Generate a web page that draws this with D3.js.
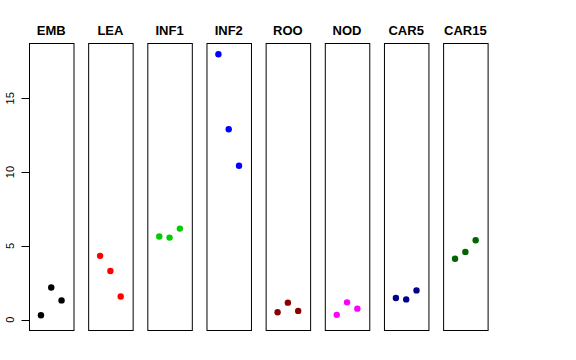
<!DOCTYPE html>
<html>
<head>
<meta charset="utf-8">
<script src="https://cdn.jsdelivr.net/npm/d3@7"></script>
<style>
  body { margin: 0; background: #fff; }
  svg { display: block; font-family: "Liberation Sans", Arial, sans-serif; }
</style>
</head>
<body>
<div id="root"></div>
<script>
// tissue panels and their point colours
const tissues = ["EMB", "LEA", "INF1", "INF2", "ROO", "NOD", "CAR5", "CAR15"]
const colors = ["#000000", "#FF0000", "#00CD00", "#0000FF", "#8B0000", "#FF00FF", "#00008B", "#006400"]

// three replicate values per tissue
const emb = [0.29, 2.18, 1.30]
const lea = [4.32, 3.29, 1.57]
const inf1 = [5.63, 5.56, 6.17]
const inf2 = [17.99, 12.91, 10.43]
const roo = [0.50, 1.15, 0.59]
const nod = [0.32, 1.17, 0.74]
const car5 = [1.46, 1.37, 1.98]
const car15 = [4.12, 4.59, 5.38]
const series = [emb, lea, inf1, inf2, roo, nod, car5, car15]

const y_ticks = [0, 5, 10, 15]

const width = 576, height = 360
const top_y = 43.5, bottom_y = 330.5

const svg = d3.select("#root").append("svg")
  .attr("width", width)
  .attr("height", height)

const panel_scale = d3.scaleBand()
  .domain(tissues)
  .range([29, 487.6])
  .paddingInner(0.248)
  .paddingOuter(0)

const y_scale = d3.scaleLinear()
  .domain([-0.74, 18.72])
  .range([bottom_y, top_y])

const x_scale = d3.scaleLinear()
  .domain([-0.16, 4.16])
  .range([0, panel_scale.bandwidth()])

tissues.forEach((name, i) => {
  const left = panel_scale(name)
  const g = svg.append("g").attr("transform", `translate(${left},0)`)

  g.append("text")
    .attr("x", panel_scale.bandwidth() / 2)
    .attr("y", 34.5)
    .attr("text-anchor", "middle")
    .attr("font-weight", "bold")
    .attr("font-size", 13)
    .text(name)

  g.selectAll("circle")
    .data(series[i])
    .enter()
    .append("circle")
    .attr("cx", (d, j) => x_scale(j + 1))
    .attr("cy", d => y_scale(d))
    .attr("r", 3.2)
    .attr("fill", colors[i])

  g.append("rect")
    .attr("x", 0.5)
    .attr("y", top_y)
    .attr("width", panel_scale.bandwidth())
    .attr("height", bottom_y - top_y)
    .attr("fill", "none")
    .attr("stroke", "#000")
    .attr("stroke-width", 1)
})

// y axis, R style: line only across tick range
const axis_x = panel_scale(tissues[0]) + 0.5
const axis = svg.append("g")
axis.append("line")
  .attr("x1", axis_x).attr("x2", axis_x)
  .attr("y1", y_scale(y_ticks[0])).attr("y2", y_scale(y_ticks[y_ticks.length - 1]))
  .attr("stroke", "#000")

axis.selectAll("line.tick")
  .data(y_ticks)
  .enter()
  .append("line")
  .attr("class", "tick")
  .attr("x1", axis_x).attr("x2", axis_x - 8)
  .attr("y1", d => Math.round(y_scale(d)) + 0.5)
  .attr("y2", d => Math.round(y_scale(d)) + 0.5)
  .attr("stroke", "#000")

axis.selectAll("text")
  .data(y_ticks)
  .enter()
  .append("text")
  .attr("transform", d => `translate(13.5,${y_scale(d)}) rotate(-90)`)
  .attr("text-anchor", "middle")
  .attr("font-size", 11)
  .text(d => d)
</script>
</body>
</html>
